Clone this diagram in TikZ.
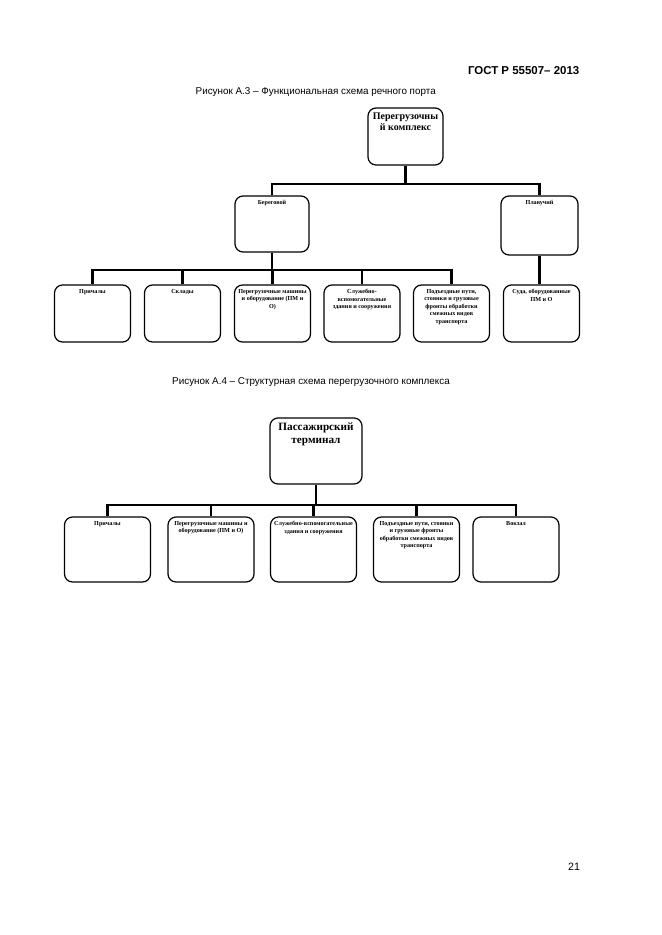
\documentclass[tikz,border=0pt]{standalone}
\usepackage{fontspec}
\setmainfont{Liberation Serif}
\newfontfamily\arial{Liberation Sans}
\usepackage{tikz}

\tikzset{
  blk/.style={draw, rounded corners=6pt, line width=0.9pt, inner sep=0pt},
  blktxt/.style={anchor=north, align=center, inner sep=0pt, font=\bfseries\fontsize{4.6}{5.6}\selectfont},
  bigtxt/.style={anchor=north, align=center, inner sep=0pt, font=\bfseries\fontsize{7.5}{8.4}\selectfont},
  bus/.style={line width=2.2pt}
}

\begin{document}
\begin{tikzpicture}[x=0.75pt,y=-0.75pt]
    \useasboundingbox (0,0) rectangle (661,935);

    % page head
    \node[anchor=east, font=\arial\bfseries\fontsize{8.6}{10}\selectfont] (gost) at (584,71) {ГОСТ Р 55507– 2013};
    \node[anchor=west, font=\arial\fontsize{7.4}{9}\selectfont] (cap3) at (191,92) {Рисунок А.3 – Функциональная схема речного порта};

    % figure A.3
    \node[blk, minimum width=75*0.75pt, minimum height=57*0.75pt] (top) at (405.5,136.5) {};
    \node[bigtxt] (toptxt) at ([yshift=-4pt]top.north) {Перегрузочны\\й комплекс};

    \node[blk, minimum width=74*0.75pt, minimum height=56*0.75pt] (bereg) at (272,224) {};
    \node[blktxt] (beregtxt) at ([yshift=-3.5pt]bereg.north) {Береговой};
    \node[blk, minimum width=77*0.75pt, minimum height=59*0.75pt] (plav) at (539.5,225.5) {};
    \node[blktxt] (plavtxt) at ([yshift=-3.5pt]plav.north) {Плавучий};

    \foreach \n/\x/\t in {
        1/92.5/{Причалы},
        2/182.5/{Склады},
        3/272.5/{Перегрузочные машины\\и оборудование (ПМ и\\О)},
        4/362/{Служебно-\\вспомогательные\\здания и сооружения},
        5/451.5/{Подъездные пути,\\стоянки и грузовые\\фронты обработки\\смежных видов\\транспорта},
        6/541.5/{Суда, оборудованные\\ПМ и О}} {
        \node[blk, minimum width=76*0.75pt, minimum height=57*0.75pt] (b\n) at (\x,313.5) {};
        \node[blktxt] (b\n txt) at ([yshift=-3.5pt]b\n.north) {\t};
    }

    \coordinate (bus1) at (405.5,184);
    \coordinate (bus2) at (272,270);
    \draw[bus] (top.south) -- (bus1);
    \draw[bus] (bereg.north) |- (bus1) -| (plav.north);
    \draw[bus] (bereg.south) -- (bus2);
    \draw[bus] (b1.north) |- (bus2) -| (b5.north);
    \foreach \n in {2,3,4}
        \draw[bus] (b\n.north) -- (b\n.north |- bus2);
    \draw[bus] (plav.south) -- (plav.south |- b6.north);

    \node[font=\arial\fontsize{7.4}{9}\selectfont] (cap4) at (311,382) {Рисунок А.4 – Структурная схема перегрузочного комплекса};

    % figure A.4
    \node[blk, minimum width=92*0.75pt, minimum height=66*0.75pt] (term) at (316,451) {};
    \node[bigtxt, font=\bfseries\fontsize{8.4}{9.4}\selectfont] (termtxt) at ([yshift=-4pt]term.north) {Пассажирский\\терминал};

    \foreach \n/\x/\t in {
        1/107.5/{Причалы},
        2/211/{Перегрузочные машины и\\оборудование (ПМ и О)},
        3/313.5/{Служебно-вспомогательные\\здания и сооружения},
        4/416.5/{Подъездные пути, стоянки\\и грузовые фронты\\обработки смежных видов\\транспорта},
        5/516/{Вокзал}} {
        \node[blk, minimum width=86*0.75pt, minimum height=65*0.75pt] (c\n) at (\x,549.5) {};
        \node[blktxt] (c\n txt) at ([yshift=-3.5pt]c\n.north) {\t};
    }

    \coordinate (bus3) at (316,505);
    \draw[bus] (term.south) -- (bus3);
    \draw[bus] (c1.north) |- (bus3) -| (c5.north);
    \foreach \n in {2,3,4}
        \draw[bus] (c\n.north) -- (c\n.north |- bus3);

    \node[font=\arial\fontsize{8}{9}\selectfont] (pagenum) at (574,867) {21};
\end{tikzpicture}
\end{document}
